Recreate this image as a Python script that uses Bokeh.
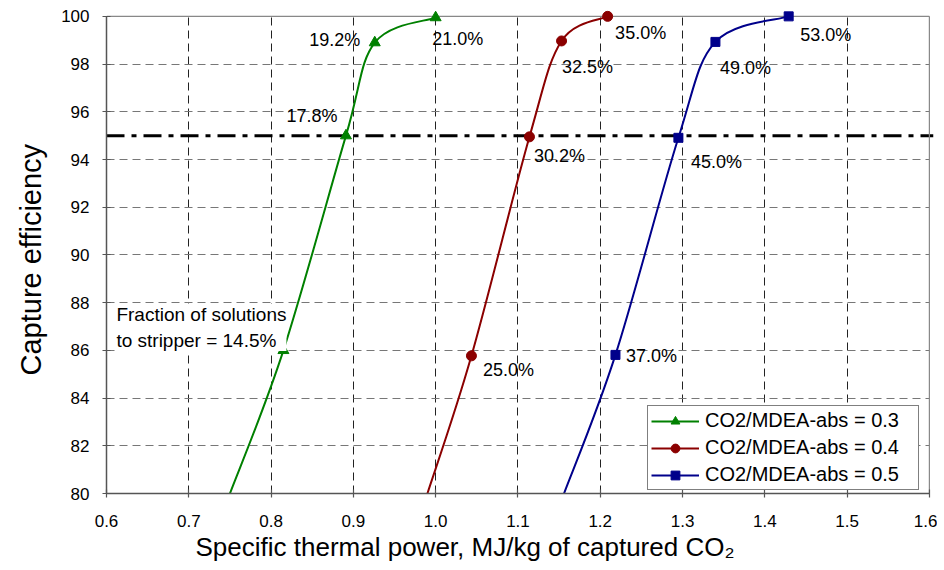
from bokeh.plotting import figure
from bokeh.models import (FixedTicker, Span, Legend, LegendItem, Title,
                          ColumnDataSource, Range1d)
from bokeh.core.properties import value
from bokeh.embed import file_html
from bokeh.resources import INLINE

# ---------------- data ----------------
x_ticks = [0.6, 0.7, 0.8, 0.9, 1.0, 1.1, 1.2, 1.3, 1.4, 1.5, 1.6]
x_tick_labels = ["0.6", "0.7", "0.8", "0.9", "1.0", "1.1", "1.2", "1.3", "1.4", "1.5", "1.6"]
y_ticks = [80, 82, 84, 86, 88, 90, 92, 94, 96, 98, 100]
y_tick_labels = ["80", "82", "84", "86", "88", "90", "92", "94", "96", "98", "100"]
capture_target = 95.0

series_names = ["CO2/MDEA-abs = 0.3", "CO2/MDEA-abs = 0.4", "CO2/MDEA-abs = 0.5"]

# where each curve enters the bottom of the chart (y = 80)
s03_entry_x = 0.750
s04_entry_x = 0.990
s05_entry_x = 1.156

s03_x = [0.815, 0.891, 0.926, 1.000]
s03_y = [86.0, 95.0, 98.9, 99.95]
s03_labels = ["14.5%", "17.8%", "19.2%", "21.0%"]

s04_x = [1.0435, 1.114, 1.153, 1.209]
s04_y = [85.77, 94.95, 98.97, 100.0]
s04_labels = ["25.0%", "30.2%", "32.5%", "35.0%"]

s05_x = [1.2185, 1.295, 1.340, 1.429]
s05_y = [85.81, 94.91, 98.93, 100.0]
s05_labels = ["37.0%", "45.0%", "49.0%", "53.0%"]

fraction_prefix = "Fraction of solutions\nto stripper = "

# ---------------- styling / layout ----------------
colors = ["#008000", "#8B0000", "#00008B"]
markers = ["triangle", "circle", "square"]
marker_sizes = [11, 10, 9]
# label pixel offsets relative to marker (dx, dy; dy positive = down)
s03_off = [None, (-34, -20), (-40, -3), (22, 21)]
s04_off = [(37, 14), (30, 19), (26, 26), (33, 17)]
s05_off = [(36, 1), (38, 24), (30, 26), (37, 19)]
FONT = "Liberation Sans"

X_MIN, X_MAX = x_ticks[0], x_ticks[-1]
Y_MIN, Y_MAX = y_ticks[0], y_ticks[-1]

p = figure(frame_width=827, frame_height=485,
           x_range=Range1d(X_MIN, 1.605), y_range=Range1d(Y_MIN, 100.33),
           min_border_left=105, min_border_top=8, min_border_right=4,
           min_border_bottom=10,
           output_backend="svg", toolbar_location=None,
           background_fill_color="white", border_fill_color="white")
p.outline_line_color = None

# grids
p.xgrid.ticker = FixedTicker(ticks=x_ticks[1:-1])
p.ygrid.ticker = FixedTicker(ticks=y_ticks[1:-1])
p.xgrid.grid_line_color = "#222222"
p.ygrid.grid_line_color = "#777777"
p.grid.grid_line_dash = "8 5"
p.grid.grid_line_width = 1
try:
    p.xgrid.cross_bounds = (Y_MIN, Y_MAX)
    p.ygrid.cross_bounds = (X_MIN, X_MAX)
except Exception:
    pass

# axes
p.xaxis.ticker = FixedTicker(ticks=x_ticks)
p.yaxis.ticker = FixedTicker(ticks=y_ticks)
p.xaxis.major_label_overrides = {t: l for t, l in zip(x_ticks, x_tick_labels)}
p.yaxis.major_label_overrides = {t: l for t, l in zip(y_ticks, y_tick_labels)}
p.xaxis.bounds = (X_MIN, X_MAX)
p.yaxis.bounds = (Y_MIN, Y_MAX)
for ax in (p.xaxis, p.yaxis):
    ax.axis_line_color = "#555555"
    ax.axis_line_width = 1.5
    ax.major_tick_line_color = "#555555"
    ax.major_tick_line_width = 1.2
    ax.major_tick_in = 4
    ax.major_tick_out = 4
    ax.minor_tick_line_color = None
    ax.major_label_text_font = FONT
    ax.major_label_text_font_size = "17px"
    ax.major_label_text_color = "black"
p.yaxis.major_label_standoff = 13
p.xaxis.major_label_standoff = 17

ytitle = Title(text="Capture efficiency", align="left", offset=118,
               text_font=FONT, text_font_size="29px", text_font_style="normal",
               text_color="black", standoff=24)
p.add_layout(ytitle, "left")

xtitle = Title(text="Specific thermal power, MJ/kg of captured CO\u2082",
               align="left", offset=89, text_font=FONT, text_font_size="26px",
               text_font_style="normal", text_color="black", standoff=0)
p.add_layout(xtitle, "below")

# top and right chart border
p.segment(x0=[X_MIN, X_MAX], y0=[Y_MAX, Y_MIN], x1=[X_MAX, X_MAX], y1=[Y_MAX, Y_MAX],
          line_color="#888888", line_width=1.2)

# 95 % capture line
p.add_layout(Span(location=capture_target, dimension="width", line_color="black",
                  line_width=3, line_dash="18 7 5 7", level="underlay"))


def smooth(xs, ys):
    n = len(xs)
    d = dict(x0=[], y0=[], x1=[], y1=[], cx0=[], cy0=[], cx1=[], cy1=[])
    for i in range(n - 1):
        a = max(i - 1, 0)
        b = min(i + 2, n - 1)
        d["x0"].append(xs[i]); d["y0"].append(ys[i])
        d["x1"].append(xs[i + 1]); d["y1"].append(ys[i + 1])
        d["cx0"].append(xs[i] + (xs[i + 1] - xs[a]) / 6.0)
        d["cy0"].append(ys[i] + (ys[i + 1] - ys[a]) / 6.0)
        d["cx1"].append(xs[i + 1] - (xs[b] - xs[i]) / 6.0)
        d["cy1"].append(ys[i + 1] - (ys[b] - ys[i]) / 6.0)
    return d


series = [
    (s03_entry_x, s03_x, s03_y, s03_labels, s03_off),
    (s04_entry_x, s04_x, s04_y, s04_labels, s04_off),
    (s05_entry_x, s05_x, s05_y, s05_labels, s05_off),
]

legend_items = []
for k, (ex, xs, ys, labs, offs) in enumerate(series):
    c = colors[k]
    bz = smooth([ex] + xs, [Y_MIN] + ys)
    p.bezier(source=ColumnDataSource(bz), x0="x0", y0="y0", x1="x1", y1="y1",
             cx0="cx0", cy0="cy0", cx1="cx1", cy1="cy1", line_color=c, line_width=2)
    sc = p.scatter(xs, ys, marker=markers[k], size=marker_sizes[k],
                   fill_color=c, line_color=c)
    # single-point line: invisible on the chart, supplies the legend's line swatch
    swatch = p.line(x=xs[:1], y=ys[:1], line_color=c, line_width=2)
    legend_items.append(LegendItem(label=series_names[k], renderers=[swatch, sc]))

    idx = [i for i in range(len(xs)) if offs[i] is not None]
    src = ColumnDataSource(dict(
        x=[xs[i] for i in idx], y=[ys[i] for i in idx], t=[labs[i] for i in idx],
        dx=[offs[i][0] for i in idx], dy=[offs[i][1] for i in idx]))
    p.text(x="x", y="y", text="t", x_offset="dx", y_offset="dy", source=src,
           text_align="center", text_baseline="middle",
           text_font=value(FONT), text_font_size="18px", text_color="black")

# fraction note on the 0.3 curve's lowest point (box hides part of marker)
p.text(x=[s03_x[0]], y=[s03_y[0]], text=[fraction_prefix + s03_labels[0]],
       x_offset=-167, y_offset=-23, text_align="left", text_baseline="middle",
       text_font=value(FONT), text_font_size="19px", text_color="black",
       text_line_height=1.25, background_fill_color="white")

legend = Legend(items=legend_items, location=(541, 3))
legend.label_text_font = FONT
legend.label_text_font_size = "20px"
legend.label_text_color = "black"
legend.border_line_color = "black"
legend.border_line_width = 1
legend.background_fill_color = "white"
legend.background_fill_alpha = 1
legend.padding = 3
legend.margin = 0
legend.spacing = 4
legend.label_height = 22
legend.glyph_height = 22
legend.glyph_width = 48
legend.label_standoff = 6
legend.label_width = 210
p.add_layout(legend)

open("out.html", "w").write(file_html(p, INLINE))
